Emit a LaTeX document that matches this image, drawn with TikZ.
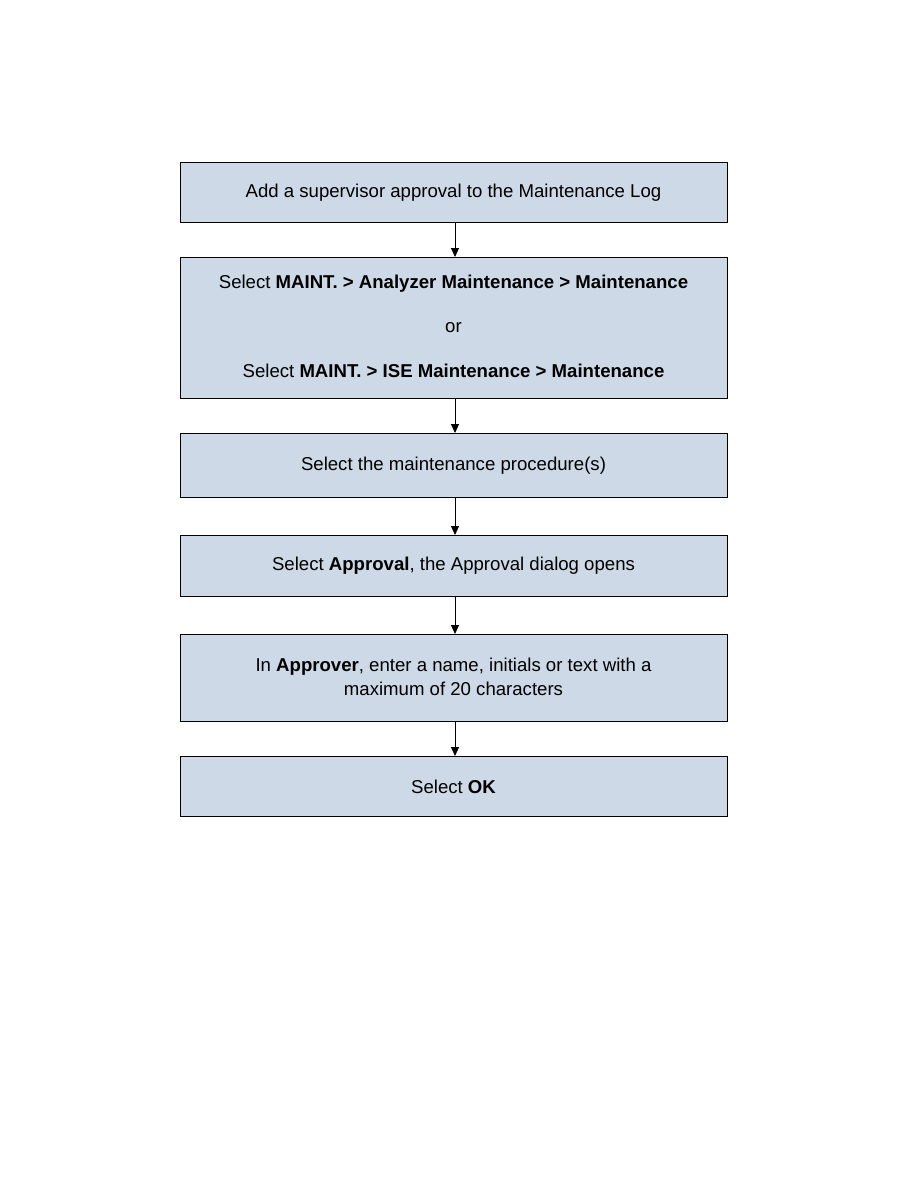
\documentclass[tikz,border=0pt]{standalone}
\usepackage{fontspec}
\setmainfont{Liberation Sans}
\usetikzlibrary{arrows.meta}
\definecolor{boxfill}{RGB}{205,217,230}
\begin{document}
\begin{tikzpicture}[x=1pt,y=-1pt,
  stepbox/.style={draw=black,line width=1pt,fill=boxfill,minimum width=547pt,anchor=north,align=center,font=\fontsize{18.6}{24}\selectfont,inner sep=0pt},
  conn/.style={-{Triangle[length=9pt,width=8pt]},line width=0.9pt}]
\useasboundingbox (0,0) rectangle (918,1188);
\node[stepbox,minimum height=60pt] (b1) at (453.5,162) {Add a supervisor approval to the Maintenance Log};
\node[stepbox,minimum height=141pt,text depth=4pt,font=\fontsize{18.6}{44.5}\selectfont] (b2) at (453.5,257) {Select \textbf{MAINT. > Analyzer Maintenance > Maintenance}\\ or\\ Select \textbf{MAINT. > ISE Maintenance > Maintenance}};
\node[stepbox,minimum height=64pt] (b3) at (453.5,433) {Select the maintenance procedure(s)};
\node[stepbox,minimum height=61pt] (b4) at (453.5,535) {Select \textbf{Approval}, the Approval dialog opens};
\node[stepbox,minimum height=87pt,text depth=2pt] (b5) at (453.5,634) {In \textbf{Approver}, enter a name, initials or text with a\\ maximum of 20 characters};
\node[stepbox,minimum height=60pt] (b6) at (453.5,756) {Select \textbf{OK}};
\draw[conn] (b1.south -| 455,0) -- (b2.north -| 455,0);
\draw[conn] (b2.south -| 455,0) -- (b3.north -| 455,0);
\draw[conn] (b3.south -| 455,0) -- (b4.north -| 455,0);
\draw[conn] (b4.south -| 455,0) -- (b5.north -| 455,0);
\draw[conn] (b5.south -| 455,0) -- (b6.north -| 455,0);
\end{tikzpicture}
\end{document}
